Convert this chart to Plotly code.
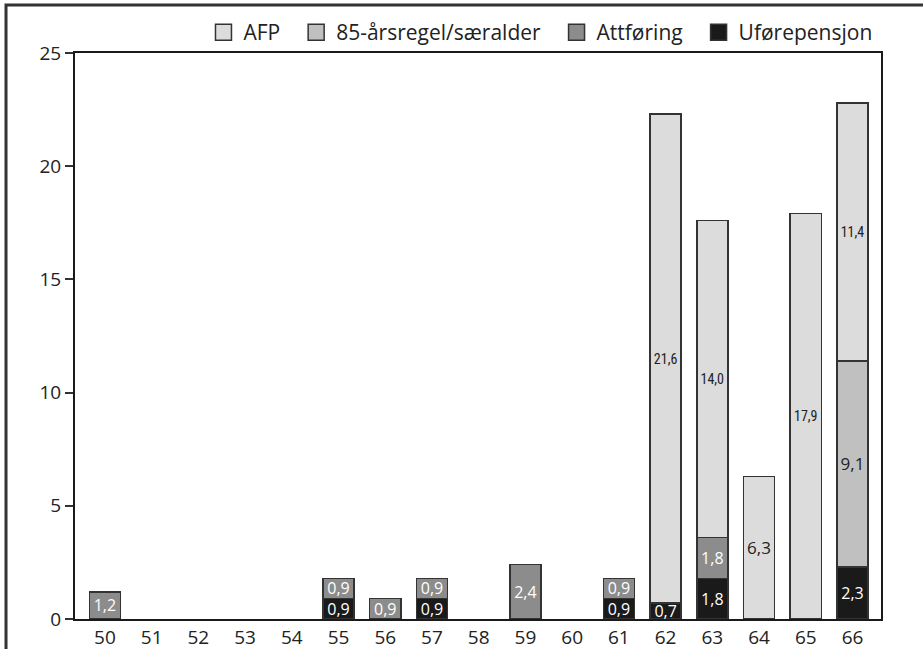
import plotly.graph_objects as go

ages = ["50", "51", "52", "53", "54", "55", "56", "57", "58", "59", "60", "61", "62", "63", "64", "65", "66"]
ufore = [None, None, None, None, None, 0.9, None, 0.9, None, None, None, 0.9, 0.7, 1.8, None, None, 2.3]
attforing = [1.2, None, None, None, None, 0.9, 0.9, 0.9, None, 2.4, None, 0.9, None, 1.8, None, None, None]
regel85 = [None] * 16 + [9.1]
afp = [None] * 12 + [21.6, 14.0, 6.3, 17.9, 11.4]

y_ticks = [0, 5, 10, 15, 20, 25]

def fmt(v):
    return "" if v is None else f"{v:.1f}".replace(".", ",")

FONT = "Open Sans, Noto Sans, DejaVu Sans, sans-serif"
NARROW = "Liberation Sans Narrow, Roboto Condensed, Arial Narrow, sans-serif"
OUTLINE = dict(color="#333333", width=1.5)
NB = "\u00a0"

fig = go.Figure()

series = [
    ("Uførepensjon", ufore, "#1a1a1a", "white", FONT, 16, 0),
    ("Attføring", attforing, "#8c8c8c", "white", FONT, 16, 2),
    ("85-årsregel/særalder", regel85, "#c0c0c0", "#222222", FONT, 16, 2),
    ("AFP", afp, "#dcdcdc", "#222222", NARROW, 14, 2),
]

for name, vals, color, tcolor, tfont, tsize, pad in series:
    sizes = [tsize] * len(vals)
    fonts = [tfont] * len(vals)
    if name == "AFP":
        idx = ages.index("64")
        sizes[idx] = 17
        fonts[idx] = FONT
    if name == "85-årsregel/særalder":
        sizes = [17] * len(vals)
    fig.add_trace(go.Bar(
        name=name,
        x=ages,
        y=vals,
        marker=dict(color=color, line=OUTLINE),
        text=[fmt(v) for v in vals],
        textposition="inside",
        insidetextanchor="middle",
        textangle=0,
        constraintext="none",
        textfont=dict(color=tcolor, size=sizes, family=fonts),
        hoverinfo="skip",
        showlegend=False,
    ))

# legend entries (large square keys as in the reference)
for name, vals, color, tcolor, tfont, tsize, pad in series:
    fig.add_trace(go.Scatter(
        name=name + NB * pad, x=[None], y=[None], mode="markers",
        marker=dict(symbol="square", size=18, color=color,
                    line=dict(color="#333333", width=1.5)),
        showlegend=True, hoverinfo="skip",
    ))

fig.update_layout(
    barmode="stack",
    bargap=0.335,
    width=923,
    height=649,
    margin=dict(l=75, r=42, t=53, b=30, autoexpand=False),
    paper_bgcolor="white",
    plot_bgcolor="white",
    font=dict(family=FONT, size=19, color="#222222"),
    legend=dict(
        orientation="h",
        traceorder="reversed",
        x=0.1594, xanchor="left",
        y=1.036, yanchor="middle",
        font=dict(size=21, family=FONT, color="#222222"),
        bgcolor="rgba(0,0,0,0)",
        itemsizing="trace",
        itemwidth=30,
    ),
    xaxis=dict(
        type="category",
        range=[-0.64, 16.61],
        showline=True, linecolor="#1a1a1a", linewidth=2, mirror=True,
        showgrid=False, ticks="", tickfont=dict(size=19),
        fixedrange=True, automargin=False,
    ),
    yaxis=dict(
        range=[0, 25],
        tickvals=y_ticks,
        showline=True, linecolor="#1a1a1a", linewidth=2, mirror=True,
        showgrid=False, zeroline=False,
        ticks="outside", ticklen=8, tickwidth=1.5, tickcolor="#333333",
        tickfont=dict(size=19),
        fixedrange=True, automargin=False,
    ),
    shapes=[
        dict(type="rect", xref="paper", yref="paper",
             x0=-0.0856, x1=1.1, y0=-0.1, y1=1.0848,
             line=dict(color="#333333", width=3), fillcolor="rgba(0,0,0,0)",
             layer="below"),
    ],
)

fig.write_html("out.html", config={"displayModeBar": False},
               post_script="document.body.style.margin='0';")
